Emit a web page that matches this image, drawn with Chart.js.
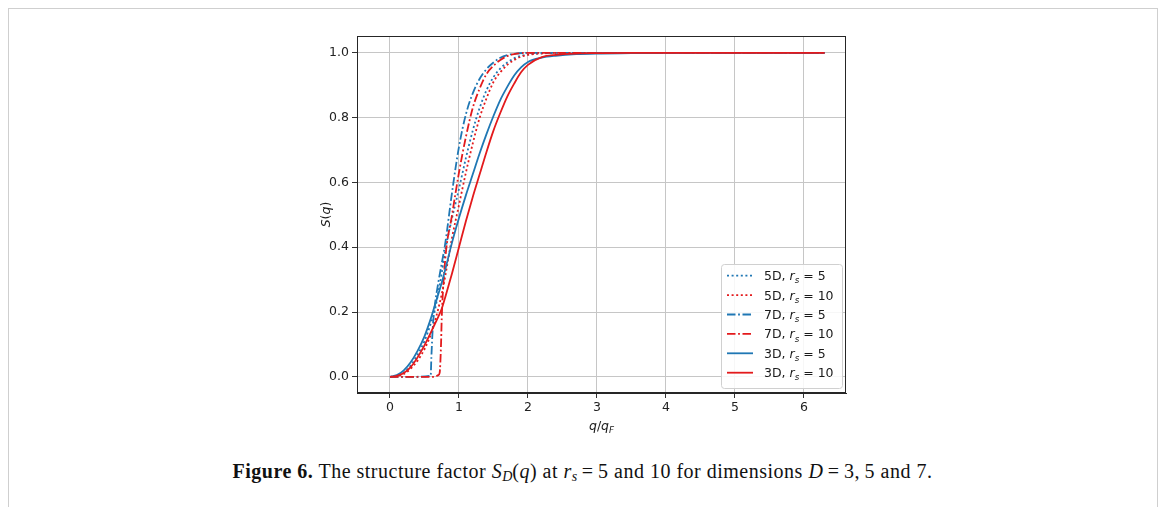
<!DOCTYPE html>
<html>
<head>
<meta charset="utf-8">
<script src="https://cdn.jsdelivr.net/npm/chart.js@4/dist/chart.umd.min.js"></script>
<style>
  html, body { margin: 0; padding: 0; background: #fff; }
  body { width: 1165px; height: 507px; position: relative; overflow: hidden; }
  #frame { position: absolute; left: 8px; top: 8px; width: 1148px; height: 540px; border: 1px solid #cfcfcf; }
  #wrap { position: absolute; left: 0; top: 0; width: 1165px; height: 440px; }
  #caption {
    position: absolute; left: 0; width: 1165px; top: 460px; text-align: center;
    font-family: "Liberation Serif", "DejaVu Serif", serif; font-size: 20px; letter-spacing: 0.5px; color: #111;
  }
  #caption sub { font-size: 14px; vertical-align: -3px; letter-spacing: 0; }
</style>
</head>
<body>
<div id="frame"></div>
<div id="wrap"><canvas id="chart" width="1165" height="440"></canvas></div>
<div id="caption"><b>Figure 6.</b> The structure factor <i>S</i><sub><i>D</i></sub>(<i>q</i>) at <i>r</i><sub><i>s</i></sub>&thinsp;=&thinsp;5 and 10 for dimensions <i>D</i>&thinsp;=&thinsp;3,&thinsp;5 and 7.</div>
<script>
// q/q_F grid shared by the smooth curves
const qGrid = [0, 0.1, 0.2, 0.3, 0.4, 0.5, 0.6, 0.65, 0.7, 0.75, 0.8, 0.9, 1.0, 1.1, 1.2, 1.3, 1.4, 1.5, 1.6, 1.7, 1.8, 1.9, 2.0, 2.2, 2.4, 2.7, 3.0, 3.5, 4.0, 5.0, 6.3];

const s5dRs5  = [0, 0.003, 0.013, 0.035, 0.068, 0.11, 0.17, 0.205, 0.26, 0.32, 0.39, 0.49, 0.58, 0.675, 0.76, 0.83, 0.885, 0.925, 0.952, 0.97, 0.983, 0.991, 0.995, 0.999, 1, 1, 1, 1, 1, 1, 1];
const s5dRs10 = [0, 0.002, 0.009, 0.025, 0.05, 0.085, 0.135, 0.17, 0.21, 0.255, 0.31, 0.43, 0.53, 0.63, 0.72, 0.8, 0.86, 0.91, 0.94, 0.963, 0.978, 0.988, 0.994, 0.998, 1, 1, 1, 1, 1, 1, 1];
const s3dRs5  = [0, 0.005, 0.02, 0.045, 0.08, 0.125, 0.185, 0.22, 0.255, 0.29, 0.33, 0.415, 0.49, 0.56, 0.625, 0.69, 0.75, 0.805, 0.855, 0.895, 0.93, 0.955, 0.972, 0.985, 0.991, 0.996, 0.998, 0.999, 1, 1, 1];
const s3dRs10 = [0, 0.003, 0.012, 0.03, 0.06, 0.097, 0.14, 0.163, 0.185, 0.21, 0.245, 0.32, 0.4, 0.48, 0.555, 0.625, 0.695, 0.76, 0.815, 0.865, 0.905, 0.94, 0.963, 0.987, 0.994, 0.998, 0.999, 1, 1, 1, 1];

// 7D curves have a jump, so they get their own q points
const q7dRs5  = [0, 0.3, 0.59, 0.6, 0.62, 0.65, 0.7, 0.75, 0.8, 0.9, 1.0, 1.1, 1.2, 1.3, 1.4, 1.5, 1.6, 1.7, 1.8, 2.0, 2.5, 3.0, 6.3];
const s7dRs5  = [0, 0, 0.003, 0.06, 0.15, 0.22, 0.29, 0.35, 0.41, 0.57, 0.71, 0.81, 0.875, 0.92, 0.95, 0.97, 0.985, 0.993, 0.997, 1, 1, 1, 1];
const q7dRs10 = [0, 0.3, 0.65, 0.7, 0.72, 0.74, 0.75, 0.8, 0.9, 1.0, 1.1, 1.2, 1.3, 1.4, 1.5, 1.6, 1.7, 1.8, 2.0, 2.5, 3.0, 6.3];
const s7dRs10 = [0, 0, 0, 0.005, 0.012, 0.1, 0.18, 0.36, 0.5, 0.63, 0.74, 0.83, 0.89, 0.935, 0.96, 0.978, 0.99, 0.996, 1, 1, 1, 1];

const legendDims = ["5D", "5D", "7D", "7D", "3D", "3D"];
const legendRs = ["5", "10", "5", "10", "5", "10"];

const xTicks = [0, 1, 2, 3, 4, 5, 6];
const yTicks = [0, 0.2, 0.4, 0.6, 0.8, 1.0];

const BLUE = "#1f77b4";
const RED = "#e31a1c";
const DOTTED = [2, 2.6];
const DASHDOT = [8.5, 2.6, 1.8, 2.6];

function pts(qs, ss) {
  return qs.map((q, i) => ({ x: q, y: ss[i] }));
}

const series = [
  { data: pts(qGrid, s5dRs5), color: BLUE, dash: DOTTED },
  { data: pts(qGrid, s5dRs10), color: RED, dash: DOTTED },
  { data: pts(q7dRs5, s7dRs5), color: BLUE, dash: DASHDOT },
  { data: pts(q7dRs10, s7dRs10), color: RED, dash: DASHDOT },
  { data: pts(qGrid, s3dRs5), color: BLUE, dash: [] },
  { data: pts(qGrid, s3dRs10), color: RED, dash: [] },
];

const FONT = "DejaVu Sans";

// draws text made of pieces [text, italic, sub]
function drawPieces(ctx, pieces, x, y, size) {
  let cx = x;
  pieces.forEach(p => {
    const sz = p[2] ? size * 0.7 : size;
    ctx.font = (p[1] ? "oblique " : "") + sz + "px " + FONT;
    ctx.fillText(p[0], cx, p[2] ? y + size * 0.25 : y);
    cx += ctx.measureText(p[0]).width;
  });
  return cx - x;
}
function measurePieces(ctx, pieces, size) {
  let w = 0;
  pieces.forEach(p => {
    const sz = p[2] ? size * 0.7 : size;
    ctx.font = (p[1] ? "oblique " : "") + sz + "px " + FONT;
    w += ctx.measureText(p[0]).width;
  });
  return w;
}

const decor = {
  id: "decor",
  afterDraw(chart) {
    const ctx = chart.ctx;
    const ca = chart.chartArea;
    ctx.save();
    // axes box
    ctx.strokeStyle = "#262626";
    ctx.lineWidth = 1;
    ctx.setLineDash([]);
    ctx.strokeRect(Math.round(ca.left) + 0.5, Math.round(ca.top) + 0.5,
      Math.round(ca.right - ca.left) - 1, Math.round(ca.bottom - ca.top) - 1);

    // axis titles
    ctx.fillStyle = "#1a1a1a";
    ctx.textBaseline = "alphabetic";
    ctx.textAlign = "left";
    const xt = [["q", true], ["/", false], ["q", true], ["F", true, true]];
    const xw = measurePieces(ctx, xt, 12.5);
    drawPieces(ctx, xt, (ca.left + ca.right) / 2 - xw / 2, ca.bottom + 37, 12.5);

    const yt = [["S", true], ["(", false], ["q", true], [")", false]];
    const yw = measurePieces(ctx, yt, 12.5);
    ctx.save();
    ctx.translate(ca.left - 27, (ca.top + ca.bottom) / 2);
    ctx.rotate(-Math.PI / 2);
    drawPieces(ctx, yt, -yw / 2, 0, 12.5);
    ctx.restore();

    // legend
    const bw = 121, bh = 124;
    const bx = ca.right - 4 - bw, by = ca.bottom - 5 - bh;
    ctx.fillStyle = "rgba(255,255,255,0.85)";
    ctx.strokeStyle = "#d0d0d0";
    ctx.lineWidth = 1;
    ctx.beginPath();
    ctx.roundRect(bx + 0.5, by + 0.5, bw, bh, 3);
    ctx.fill();
    ctx.stroke();
    chart.data.datasets.forEach((ds, i) => {
      const y = by + 11.7 + i * 19.4;
      ctx.strokeStyle = ds.borderColor;
      ctx.lineWidth = ds.borderWidth;
      ctx.setLineDash(ds.borderDash);
      ctx.beginPath();
      ctx.moveTo(bx + 6, y);
      ctx.lineTo(bx + 32, y);
      ctx.stroke();
      ctx.setLineDash([]);
      ctx.fillStyle = "#1a1a1a";
      drawPieces(ctx, [[legendDims[i] + ", ", false], ["r", true], ["s", true, true], [" = " + legendRs[i], false]],
        bx + 43, y + 4.5, 12.5);
    });
    ctx.restore();
  }
};

new Chart(document.getElementById("chart"), {
  type: "line",
  data: {
    datasets: series.map((s, i) => ({
      data: s.data,
      borderColor: s.color,
      borderWidth: 1.8,
      borderDash: s.dash,
      pointRadius: 0,
      fill: false,
      cubicInterpolationMode: "monotone",
      order: series.length - i,
    })),
  },
  options: {
    responsive: false,
    animation: false,
    events: [],
    layout: { padding: { left: 0, right: 319, top: 36, bottom: 0 } },
    plugins: { legend: { display: false }, tooltip: { enabled: false } },
    scales: {
      x: {
        type: "linear",
        min: -0.478,
        max: 6.61,
        afterBuildTicks: s => { s.ticks = xTicks.map(v => ({ value: v })); },
        afterFit: s => { s.height = 47; },
        grid: { color: "#c6c6c6", lineWidth: 1, tickLength: 5, tickColor: "#333" },
        border: { display: true, color: "#262626", width: 1 },
        ticks: { color: "#222", padding: 2, font: { family: FONT, size: 12.5 }, maxRotation: 0, callback: v => String(v) },
      },
      y: {
        type: "linear",
        min: -0.05,
        max: 1.052,
        afterBuildTicks: s => { s.ticks = yTicks.map(v => ({ value: v })); },
        afterFit: s => { s.width = 357; },
        grid: { color: "#c6c6c6", lineWidth: 1, tickLength: 5, tickColor: "#333" },
        border: { display: true, color: "#262626", width: 1 },
        ticks: { color: "#222", padding: 3, font: { family: FONT, size: 12.5 }, callback: v => v.toFixed(1) },
      },
    },
  },
  plugins: [decor],
});
</script>
</body>
</html>
